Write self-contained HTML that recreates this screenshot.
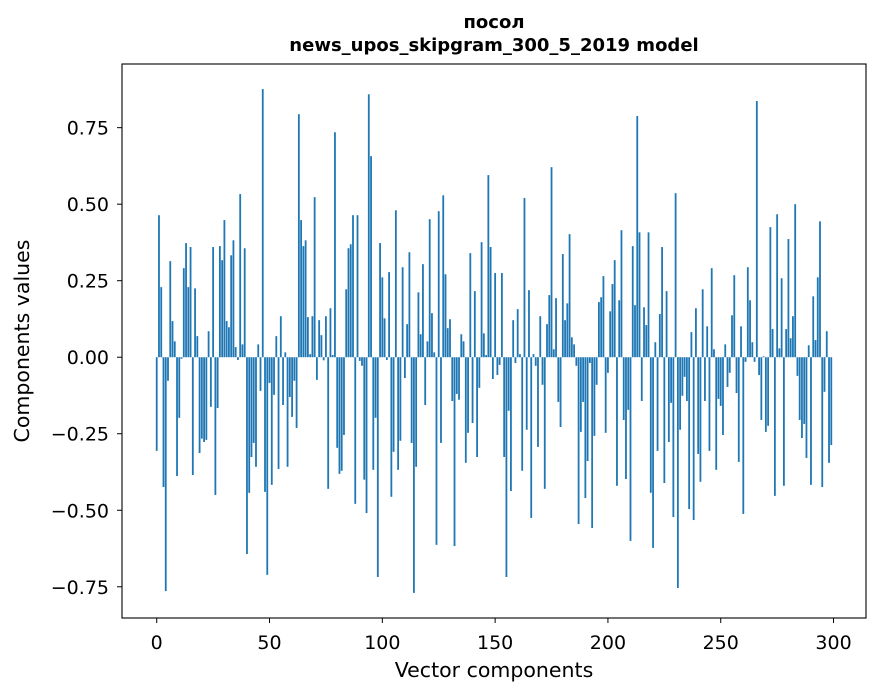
<!DOCTYPE html>
<html><head><meta charset="utf-8"><style>
html,body{margin:0;padding:0;background:#fff;}
svg{display:block;font-family:"DejaVu Sans","Liberation Sans",sans-serif;}
</style></head><body>
<svg id="chart" width="880" height="696" viewBox="0 0 880 696" xmlns="http://www.w3.org/2000/svg">
<rect width="880" height="696" fill="#fff"/>
<text x="494" y="28" text-anchor="middle" font-size="18" font-weight="bold">посол</text>
<text x="494" y="51" text-anchor="middle" font-size="18" font-weight="bold">news_upos_skipgram_300_5_2019 model</text>
<g id="bars"></g>
<g id="xticks"></g>
<g id="yticks"></g>
<rect x="122" y="64" width="744" height="554" fill="none" stroke="#000" stroke-width="1.1"/>
<text x="494" y="677" text-anchor="middle" font-size="20.5">Vector components</text>
<text x="0" y="0" transform="translate(29,341) rotate(-90)" text-anchor="middle" font-size="20.5">Components values</text>
</svg>
<script>
const values = [
-0.306,0.464,0.229,-0.424,-0.764,-0.077,0.314,0.118,0.052,-0.388,
-0.198,-0.005,0.291,0.373,0.229,0.36,-0.385,0.225,0.069,-0.313,
-0.266,-0.277,-0.27,0.085,-0.162,0.36,-0.45,-0.166,0.363,0.317,
0.448,0.118,0.098,0.333,0.382,0.033,-0.009,0.533,0.042,0.356,
-0.643,-0.443,-0.326,-0.28,-0.358,0.042,-0.11,0.876,-0.44,-0.711,
-0.084,-0.417,-0.123,0.069,-0.365,0.134,-0.156,0.016,-0.358,-0.13,
-0.195,-0.077,-0.231,0.794,0.448,0.363,0.382,0.131,0.01,0.134,
0.523,-0.074,0.121,0.072,-0.01,0.134,-0.43,0.16,0.007,0.735,
-0.296,-0.381,-0.371,-0.254,0.222,0.356,0.369,0.464,-0.479,0.464,
-0.012,-0.028,-0.4,-0.509,0.859,0.657,-0.368,-0.198,-0.718,0.373,
0.261,0.127,-0.009,0.278,-0.456,-0.309,0.48,-0.368,-0.273,0.294,
-0.068,0.108,0.343,-0.28,-0.77,-0.358,0.212,0.075,0.304,-0.156,
0.052,0.451,0.144,0.016,-0.613,0.477,-0.28,0.529,0.271,0.095,
0.124,-0.143,-0.617,-0.12,-0.139,0.075,0.052,-0.345,-0.247,0.34,
-0.215,0.216,-0.326,-0.1,0.376,0.078,0.007,0.595,0.36,-0.071,
0.275,-0.058,-0.025,0.275,-0.326,-0.718,-0.175,-0.437,0.121,-0.019,
0.157,0.01,-0.371,0.52,-0.237,0.219,-0.525,0.01,-0.028,-0.293,
0.134,-0.09,-0.43,0.108,0.203,0.621,0.026,0.193,-0.146,-0.228,
0.337,0.121,0.176,0.402,0.065,0.042,-0.028,-0.545,-0.244,-0.146,
-0.46,-0.339,-0.019,-0.558,-0.257,-0.09,0.18,0.196,0.265,-0.247,
-0.051,0.15,0.239,0.317,-0.42,0.186,0.415,-0.205,-0.398,-0.172,
-0.6,0.363,0.17,0.788,0.408,-0.143,0.163,0.105,0.408,-0.443,
-0.623,0.049,-0.306,0.141,0.36,-0.411,0.216,-0.277,-0.149,-0.522,
0.536,-0.754,-0.237,-0.126,-0.064,-0.143,-0.496,0.082,-0.532,0.16,
-0.316,-0.407,0.222,-0.143,0.101,-0.306,0.291,0.026,-0.368,-0.136,
-0.159,-0.254,0.042,-0.097,-0.051,0.137,0.268,-0.117,-0.342,0.101,
-0.512,-0.015,0.294,0.186,0.049,-0.015,0.837,-0.058,-0.205,0.003,
-0.244,-0.224,0.425,0.092,-0.453,0.467,0.029,0.258,-0.42,0.092,
0.386,0.062,0.134,0.5,-0.061,-0.205,-0.264,-0.218,-0.329,0.039,
-0.417,0.199,0.056,0.261,0.444,-0.424,-0.113,0.085,-0.345,-0.287
];
const xTicks = [0,50,100,150,200,250,300];
const yTicks = [-0.75,-0.5,-0.25,0,0.25,0.5,0.75];
const yTickLabels = ["\u22120.75","\u22120.50","\u22120.25","0.00","0.25","0.50","0.75"];

const NS = "http://www.w3.org/2000/svg";
const L=122,R=866,T=64,B=618;
const xMin=-15.39,xMax=314.39,yMin=-0.852,yMax=0.958;
function xs(v){return L+(v-xMin)/(xMax-xMin)*(R-L);}
function ys(v){return B-(v-yMin)/(yMax-yMin)*(B-T);}

const barsG=document.getElementById('bars');
values.forEach((v,i)=>{
  const r=document.createElementNS(NS,'rect');
  const x0=xs(i-0.4),x1=xs(i+0.4);
  const y0=ys(Math.max(v,0)),y1=ys(Math.min(v,0));
  r.setAttribute('x',x0);r.setAttribute('width',x1-x0);
  r.setAttribute('y',y0);r.setAttribute('height',Math.max(y1-y0,0.01));
  r.setAttribute('fill','#1f77b4');
  
  
  barsG.appendChild(r);
});
const xg=document.getElementById('xticks');
xTicks.forEach(t=>{
  const x=xs(t);
  const l=document.createElementNS(NS,'line');
  l.setAttribute('x1',x);l.setAttribute('x2',x);l.setAttribute('y1',B);l.setAttribute('y2',B+5);
  l.setAttribute('stroke','#000');
  
  
  xg.appendChild(l);
  const tx=document.createElementNS(NS,'text');
  tx.setAttribute('x',x);tx.setAttribute('y',649);tx.setAttribute('text-anchor','middle');tx.setAttribute('font-size','19');
  tx.textContent=String(t);
  
  
  xg.appendChild(tx);
});
const yg=document.getElementById('yticks');
yTicks.forEach((t,i)=>{
  const y=ys(t);
  const l=document.createElementNS(NS,'line');
  l.setAttribute('x1',L-5);l.setAttribute('x2',L);l.setAttribute('y1',y);l.setAttribute('y2',y);
  l.setAttribute('stroke','#000');
  
  
  yg.appendChild(l);
  const tx=document.createElementNS(NS,'text');
  tx.setAttribute('x',L-13);tx.setAttribute('y',y+7);tx.setAttribute('text-anchor','end');tx.setAttribute('font-size','19');
  tx.textContent=yTickLabels[i];
  
  
  yg.appendChild(tx);
});
</script>
</body></html>
